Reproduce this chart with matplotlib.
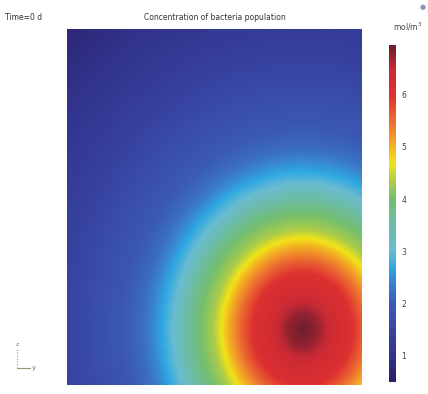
import numpy as np
import matplotlib
matplotlib.use("Agg")
import matplotlib.pyplot as plt
from matplotlib.colors import LinearSegmentedColormap

# ── Data ─────────────────────────────────────────────────────────────────────
# domain size in y / z (same units), peak location
domain_y = 1.0
domain_z = 1.207
peak_y = 0.80
peak_z = 0.186
z_stretch = 1.13   # rings look a bit taller than wide

# concentration vs. distance from the peak (distance in domain units)
radius = [0.0, 0.05, 0.11, 0.17, 0.21, 0.25, 0.275, 0.305, 0.349,
          0.40, 0.44, 0.49, 0.545, 0.62, 0.746, 0.88, 1.05, 1.29]
conc = [6.95, 6.75, 6.3, 6.0, 5.55, 5.05, 4.7, 4.3, 4.0,
        3.5, 3.0, 2.6, 2.2, 1.9, 1.6, 1.3, 1.0, 0.6]

cbar_ticks = [1, 2, 3, 4, 5, 6]
vmin, vmax = 0.5, 6.95

# colour map nodes (value, colour)
cmap_vals = [0.5, 1.0, 1.5, 2.0, 2.4, 2.7, 3.0, 3.5, 4.0, 4.4, 4.7, 5.0, 5.5, 6.0, 6.5, 6.95]
cmap_cols = ["#2a1d66", "#32338c", "#3845a2", "#3b5cb6", "#3a80cc", "#2fa8e2",
             "#6abcd0", "#6cbcaa", "#74be70", "#b8d040", "#f0e418", "#f4b423",
             "#ec6e30", "#de3030", "#c82a35", "#6e1e2c"]

# ── Field ────────────────────────────────────────────────────────────────────
yy, zz = np.meshgrid(np.linspace(0, domain_y, 300), np.linspace(0, domain_z, 360))
dist = np.hypot(yy - peak_y, (zz - peak_z) / z_stretch)
field = np.interp(dist, radius, conc)

cmap = LinearSegmentedColormap.from_list(
    "comsol_rainbow", [((v - vmin) / (vmax - vmin), c) for v, c in zip(cmap_vals, cmap_cols)])

# ── Figure ───────────────────────────────────────────────────────────────────
fig = plt.figure(figsize=(4.28, 3.94), dpi=100)
ax = fig.add_axes([67/428, 9/394, 295/428, 356/394])
im = ax.imshow(field, origin="lower", cmap=cmap, vmin=vmin, vmax=vmax,
               extent=[0, domain_y, 0, domain_z], aspect="auto", interpolation="bilinear")
ax.set_axis_off()

cax = fig.add_axes([389/428, 12/394, 7/428, 337/394])
cb = fig.colorbar(im, cax=cax, ticks=cbar_ticks)
cb.outline.set_visible(False)
cb.ax.tick_params(labelsize=5.5, length=0, pad=4, labelcolor="#444444")

fig.text(5/428, 1 - 18/394, "Time=0 d", fontsize=5.5, color="#333333", va="center")
fig.text(215/428, 1 - 18/394, "Concentration of bacteria population",
         fontsize=5.5, color="#333333", va="center", ha="center")
fig.text(408/428, 1 - 27/394, "mol/m$^3$", fontsize=5.5, color="#444444",
         va="center", ha="center")
fig.text(423/428, 1 - 7/394, "\u25cf", fontsize=5, color="#8a9ab0", va="center", ha="center")

# coordinate triad
o = (17/428, 1 - 368/394)
fig.add_artist(plt.Line2D([o[0], o[0]], [o[1], 1 - 348/394], transform=fig.transFigure,
                          color="#8090a0", lw=0.8, ls=":"))
fig.add_artist(plt.Line2D([o[0], 30/428], [o[1], o[1]], transform=fig.transFigure,
                          color="#8a9a70", lw=0.8))
fig.text(o[0], 1 - 344/394, "z", fontsize=4.5, color="#777777", ha="center", va="center")
fig.text(34/428, o[1], "y", fontsize=5, color="#777777", ha="center", va="center")

fig.savefig("out.png", dpi=100)
